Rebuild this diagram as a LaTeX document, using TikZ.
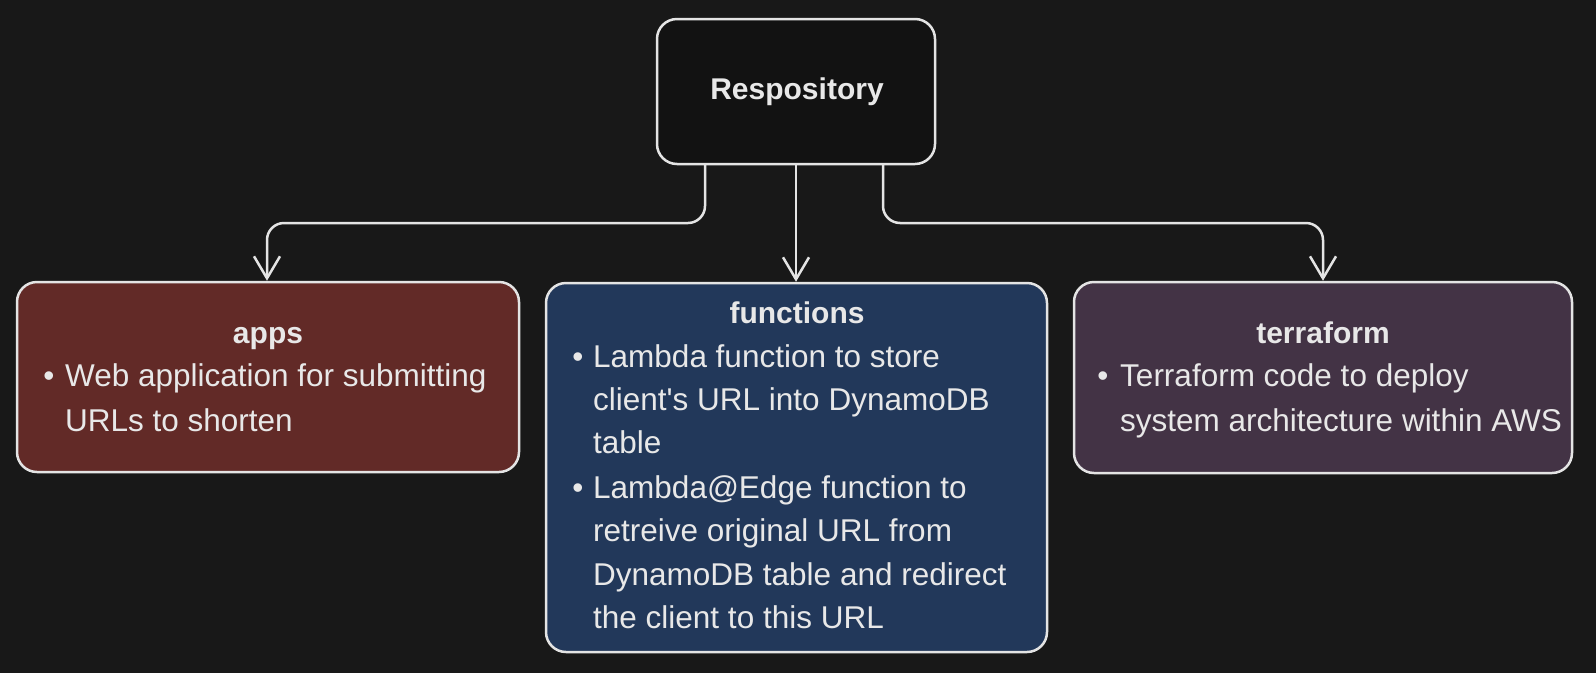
\documentclass[tikz,border=0pt]{standalone}
\usepackage{fontspec}
\setmainfont{Liberation Sans}[Ligatures=TeXOff]
\usetikzlibrary{arrows.meta}
\definecolor{bg}{HTML}{181818}
\definecolor{repofill}{HTML}{121212}
\definecolor{appsfill}{HTML}{622A27}
\definecolor{funcfill}{HTML}{22385A}
\definecolor{terrfill}{HTML}{433345}
\definecolor{strokec}{HTML}{E4E4E4}
\definecolor{textc}{HTML}{E8E8E8}
\tikzset{
  box/.style={draw=strokec, line width=2.5pt, rounded corners=20pt, inner sep=0pt},
  conn/.style={draw=strokec, line width=2.5pt, line cap=round, line join=round, rounded corners=17pt,
    -{Straight Barb[length=22pt,width=26pt,sharp]}},
  txt/.style={text=textc, inner sep=0pt, anchor=base west, font=\fontsize{31.5}{43.5}\selectfont},
  bul/.style={text=textc, inner sep=0pt, anchor=base, font=\fontsize{31.5}{43.5}\selectfont},
  ttl/.style={text=textc, inner sep=0pt, anchor=base, font=\bfseries\fontsize{30}{36}\selectfont}
}
\begin{document}
\begin{tikzpicture}[x=1pt,y=-1pt]
\fill[bg] (0,0) rectangle (1596,673);
\useasboundingbox (0,0) rectangle (1596,673);

% boxes
\node[box, fill=repofill, minimum width=278pt, minimum height=145pt] (repo) at (796,91.5) {};
\node[box, fill=appsfill, minimum width=502pt, minimum height=190pt] (apps) at (268,377) {};
\node[box, fill=funcfill, minimum width=501pt, minimum height=369pt] (func) at (796.5,467.5) {};
\node[box, fill=terrfill, minimum width=498pt, minimum height=191pt] (terr) at (1323,377.5) {};

% texts
\node[ttl] (repot) at (797,99) {Respository};

\node[ttl] (appst) at (268,343) {apps};
\node[bul] (appsb1) at (49,386) {•};
\node[txt] (appsl1) at (65,386) {Web application for submitting};
\node[txt] (appsl2) at (65,431) {URLs to shorten};

\node[ttl] (funct) at (797,323) {functions};
\node[bul] (funcb1) at (578,367) {•};
\node[txt] (funcl1) at (593,367) {Lambda function to store};
\node[txt] (funcl2) at (593,410) {client's URL into DynamoDB};
\node[txt] (funcl3) at (593,453) {table};
\node[bul] (funcb2) at (578,498) {•};
\node[txt] (funcl4) at (593,498) {Lambda@Edge function to};
\node[txt] (funcl5) at (593,541) {retreive original URL from};
\node[txt] (funcl6) at (593,585) {DynamoDB table and redirect};
\node[txt] (funcl7) at (593,628) {the client to this URL};

\node[ttl] (terrt) at (1323,343) {terraform};
\node[bul] (terrb1) at (1103,386) {•};
\node[txt] (terrl1) at (1120,386) {Terraform code to deploy};
\node[txt] (terrl2) at (1120,431) {system architecture within AWS};

% connectors
\coordinate (lbend) at (267,223);
\coordinate (rbend) at (1323,223);
\draw[conn] ([xshift=-91pt]repo.south) |- (lbend) -- (lbend |- apps.north);
\draw[conn] (repo.south) -- (repo.south |- func.north);
\draw[conn] ([xshift=87pt]repo.south) |- (rbend) -- (rbend |- terr.north);
\end{tikzpicture}
\end{document}
